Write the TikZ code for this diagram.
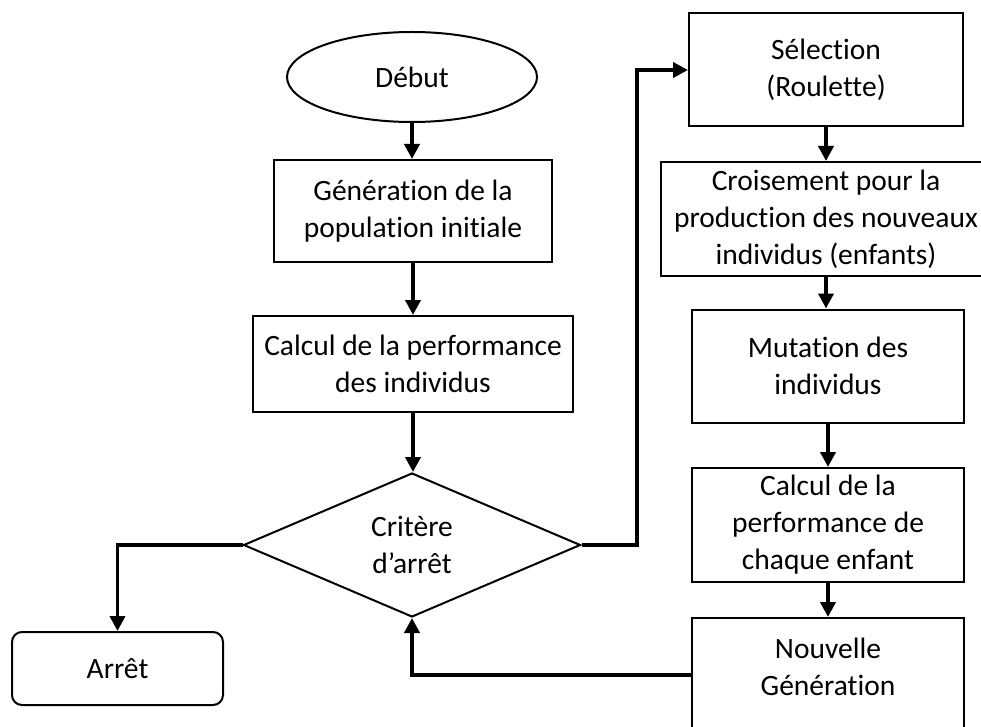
\documentclass[tikz,border=0pt]{standalone}
\usepackage{fontspec}
\setmainfont{Carlito}[Ligatures=NoCommon]
\usetikzlibrary{shapes.geometric,arrows.meta}
\begin{document}
\begin{tikzpicture}[x=1pt,y=-1pt,
  txt/.style={align=center, inner sep=0pt, font=\fontsize{29.5}{37}\selectfont},
  box/.style={txt, draw, line width=2pt},
  arr/.style={line width=3.8pt, -{Triangle[length=15pt,width=15pt]}},
]
\useasboundingbox (0,0) rectangle (981,727);
\node[box, ellipse, minimum width=250pt, minimum height=90pt] (debut) at (412,77) {Début};
\node[box, minimum width=278pt, minimum height=102pt] (gen) at (413,211) {Génération de la\\population initiale};
\node[box, minimum width=320pt, minimum height=96pt] (calc) at (413,364) {Calcul de la performance\\des individus};
\node[box, diamond, minimum width=337pt, minimum height=144pt] (crit) at (412,545) {Critère\\d’arrêt};
\node[box, rounded corners=10pt, minimum width=211pt, minimum height=73pt] (arret) at (117.5,668.5) {Arrêt};
\node[box, minimum width=274pt, minimum height=113pt] (sel) at (826,70) {Sélection\\(Roulette)};
\node[box, minimum width=330pt, minimum height=114pt] (crois) at (826,219) {Croisement pour la\\production des nouveaux\\individus (enfants)};
\node[box, minimum width=272pt, minimum height=113pt] (mut) at (828,366) {Mutation des\\individus};
\node[box, minimum width=272pt, minimum height=114pt] (calce) at (828,525) {Calcul de la\\performance de\\chaque enfant};
\node[box, minimum width=272pt, minimum height=114pt,
  label={[txt, yshift=8pt]center:Nouvelle\\Génération}] (nouv) at (828,675) {};
\coordinate (bend) at (637,545);
\draw[arr] (debut.south) -- (debut.south |- gen.north);
\draw[arr] (gen.south) -- (gen.south |- calc.north);
\draw[arr] (calc.south) -- (calc.south |- crit.north);
\draw[arr] (crit.west) -| (arret.north);
\draw[arr] (crit.east) -- (bend) |- (sel.west);
\draw[arr] (sel.south) -- (sel.south |- crois.north);
\draw[arr] (crois.south) -- (crois.south |- mut.north);
\draw[arr] (mut.south) -- (mut.south |- calce.north);
\draw[arr] (calce.south) -- (calce.south |- nouv.north);
\draw[arr] (nouv.west) -| (crit.south);
\end{tikzpicture}
\end{document}
